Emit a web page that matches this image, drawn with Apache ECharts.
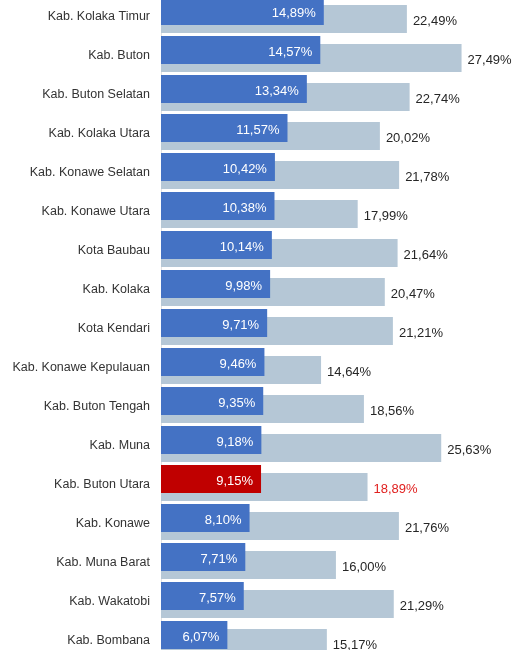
<!DOCTYPE html>
<html>
<head>
<meta charset="utf-8">
<script src="https://cdn.jsdelivr.net/npm/echarts@6/dist/echarts.min.js"></script>
<style>
  html, body { margin: 0; padding: 0; background: #fff; overflow: hidden; }
  body { width: 513px; height: 650px; position: relative; }
  #chart { position: absolute; left: 0; top: -5px; width: 513px; height: 664px; }
</style>
</head>
<body>
<div id="chart"></div>
<script>
// Regions, top to bottom
const regions = [
  'Kab. Kolaka Timur', 'Kab. Buton', 'Kab. Buton Selatan', 'Kab. Kolaka Utara',
  'Kab. Konawe Selatan', 'Kab. Konawe Utara', 'Kota Baubau', 'Kab. Kolaka',
  'Kota Kendari', 'Kab. Konawe Kepulauan', 'Kab. Buton Tengah', 'Kab. Muna',
  'Kab. Buton Utara', 'Kab. Konawe', 'Kab. Muna Barat', 'Kab. Wakatobi', 'Kab. Bombana'
];
// Front (dark) bars
const frontValues = [14.89, 14.57, 13.34, 11.57, 10.42, 10.38, 10.14, 9.98, 9.71, 9.46, 9.35, 9.18, 9.15, 8.10, 7.71, 7.57, 6.07];
// Back (light) bars
const backValues = [22.49, 27.49, 22.74, 20.02, 21.78, 17.99, 21.64, 20.47, 21.21, 14.64, 18.56, 25.63, 18.89, 21.76, 16.00, 21.29, 15.17];
// Highlighted region
const highlight = 'Kab. Buton Utara';

const fmt = p => p.value.toFixed(2).replace('.', ',') + '%';

const frontData = frontValues.map((v, i) => regions[i] === highlight
  ? { value: v, itemStyle: { color: '#C00000' } }
  : v);
const backData = backValues.map((v, i) => regions[i] === highlight
  ? { value: v, label: { color: '#E0201F' } }
  : v);

const chart = echarts.init(document.getElementById('chart'), null, { renderer: 'canvas' });
chart.setOption({
  animation: false,
  grid: { left: 161, top: 0.5, width: 328, height: 663, containLabel: false },
  xAxis: {
    type: 'value', min: 0, max: 30, show: false
  },
  yAxis: {
    type: 'category',
    data: regions,
    inverse: true,
    offset: 1,
    axisLine: { show: true, lineStyle: { color: '#E2E2E2', width: 1 } },
    axisTick: { show: false },
    axisLabel: {
      margin: 10,
      formatter: v => '{n|' + v + '}',
      rich: {
        n: {
          color: '#333', fontSize: 12.5, padding: [4, 0, 0, 0],
          fontFamily: 'Liberation Sans, Arial, sans-serif'
        }
      }
    },
    splitLine: { show: false }
  },
  series: [
    {
      name: 'front',
      type: 'bar',
      data: frontData,
      barWidth: 28,
      barGap: '-71.4%',
      z: 3,
      itemStyle: { color: '#4472C4' },
      label: {
        show: true, position: 'insideRight', distance: 8, offset: [0, 2],
        color: '#fff', fontSize: 13,
        fontFamily: 'Liberation Sans, Arial, sans-serif',
        formatter: fmt
      }
    },
    {
      name: 'back',
      type: 'bar',
      data: backData,
      barWidth: 28,
      z: 2,
      itemStyle: { color: '#B5C7D6' },
      label: {
        show: true, position: 'right', distance: 6, offset: [0, 2],
        color: '#262626', fontSize: 13,
        fontFamily: 'Liberation Sans, Arial, sans-serif',
        formatter: fmt
      }
    }
  ]
});
</script>
</body>
</html>
